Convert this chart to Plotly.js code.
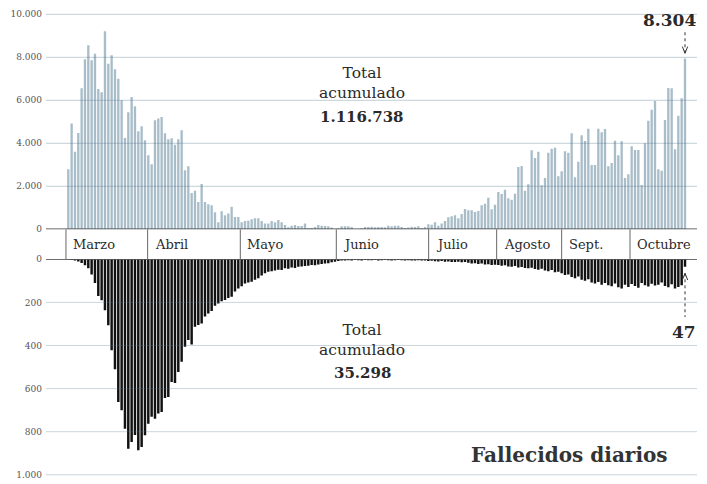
<!DOCTYPE html>
<html><head><meta charset="utf-8">
<script src="https://cdn.plot.ly/plotly-3.0.1.min.js"></script>
<style>html,body{margin:0;padding:0;background:#fff}#chart{width:707px;height:484px}</style>
</head><body><div id="chart"></div>
<script>
// Daily new cases (top panel)
const cases = [
  2790, 4916, 3612, 4480, 6558, 7907, 8558, 7860, 8170, 6527,
  6372, 9209, 7705, 8093, 7442, 7008, 6000, 4248, 5442, 6155,
  5721, 4558, 4790, 4140, 3442, 3023, 5070, 5149, 5225, 4465,
  4186, 4233, 3938, 4186, 4605, 2744, 2930, 1690, 1798, 1271,
  2108, 1271, 1163, 1116, 790, 326, 837, 651, 730, 1054,
  573, 573, 326, 388, 400, 465, 511, 511,
  388, 264, 264, 388, 326, 434, 326, 202,
  93, 170, 200, 155, 155, 264, 62, 62, 109, 200,
  170, 155, 140, 78, 10, 47, 140, 140, 140, 109,
  5, 16, 47, 109, 109, 124, 93, 109, 109, 93,
  170, 140, 170, 170, 109, 62, 78, 124, 109, 140,
  62, 109, 233, 217, 326, 170, 264, 388, 558, 605,
  651, 512, 713, 946, 884,
  884, 806, 853, 1116, 1194, 1473, 930, 1147, 1736, 1643,
  1845, 1442, 1380, 1659, 2899, 2946, 1798, 2093, 3674, 3318,
  3612, 2047, 2388, 3566, 3752, 3798, 2465, 2698, 3628, 3566,
  4465, 2419, 3147, 4372, 4109, 4682, 2992, 2992, 4682, 4512,
  4667, 2930, 3085, 4124, 3442, 4093, 2388, 2558, 3860, 3690,
  3690, 2062, 4000, 5054, 5566, 5969, 2791, 2729, 5085, 6574,
  6558, 3721, 5287, 6093, 7940
];
// Daily deaths (bottom panel)
const deaths = [
  1, 3, 5, 10, 17, 28, 42, 70, 110, 170,
  190, 236, 306, 422, 510, 662, 701, 786, 879, 848,
  815, 886, 871, 817, 763, 731, 740, 715, 709, 644,
  639, 569, 574, 523, 476, 406, 375, 395, 313, 305,
  298, 265, 252, 240, 215, 205, 195, 189, 180, 174,
  150, 135, 125, 112, 108, 104, 95, 88, 75, 65,
  58, 55, 52, 48, 50, 42, 44, 38, 40, 35,
  33, 31, 30, 26, 28, 24, 22, 19, 18, 14,
  11, 8, 6, 5, 4, 5, 3, 4, 5, 3,
  4, 4, 3, 5, 4, 3, 4, 5, 4, 3,
  4, 5, 4, 5, 6, 4, 5, 6, 8, 7,
  9, 10, 8, 11, 10, 12, 13, 11, 14, 13,
  16, 19, 18, 22, 20, 24, 23, 26, 25, 27,
  30, 28, 33, 35, 31, 38, 36, 40, 42, 39,
  45, 48, 44, 52, 55, 50, 60, 58, 65, 73,
  70, 82, 88, 80, 95, 100, 92, 108, 112, 105,
  118, 110, 120, 125, 112, 130, 136, 118, 128, 115,
  124, 132, 110, 120, 126, 114, 122, 118, 108, 124,
  130, 116, 136, 128, 120, 35
];
const monthNames = ['Marzo', 'Abril', 'Mayo', 'Junio', 'Julio', 'Agosto', 'Sept.', 'Octubre'];
const monthStarts = [0.3, 24.8, 52.6, 81.4, 109.1, 129.5, 149.0, 169.5];
const caseTicks = [0, 2000, 4000, 6000, 8000, 10000];
const deathTicks = [0, 200, 400, 600, 800, 1000];
const totalCases = '1.116.738';
const totalDeaths = '35.298';
const lastCases = '8.304';
const lastDeaths = '47';
const totalLabel = 'Total<br>acumulado';
const chartTitle = 'Fallecidos diarios';

const day = cases.map((_, i) => i + 1);
const lastDay = day[day.length - 1];
const lastCase = cases[cases.length - 1];
const lastDeath = deaths[deaths.length - 1];

const W = 707, H = 484, ML = 46, MR = 10;
const PW = W - ML - MR;
const px = x => (x - ML) / PW;   // paper x is relative to the plot area
const py = y => 1 - y / H;       // no top/bottom margins
const FONT = 'DejaVu Serif';

const traces = [
  {type: 'bar', x: day, y: cases, xaxis: 'x', yaxis: 'y', width: 0.7,
   marker: {color: '#a9bdc9', line: {width: 0}}, hoverinfo: 'skip'},
  {type: 'bar', x: day, y: deaths, xaxis: 'x', yaxis: 'y2', width: 0.74,
   marker: {color: '#111111', line: {width: 0}}, hoverinfo: 'skip'}
];

const shapes = [];
caseTicks.filter(t => t > 0).forEach(t => shapes.push({
  type: 'line', xref: 'x domain', x0: 0, x1: 1, yref: 'y', y0: t, y1: t,
  line: {color: 'rgba(80,115,140,0.35)', width: 1}, layer: 'above'}));
deathTicks.filter(t => t > 0).forEach(t => shapes.push({
  type: 'line', xref: 'x domain', x0: 0, x1: 1, yref: 'y2', y0: t, y1: t,
  line: {color: 'rgba(80,115,140,0.3)', width: 1}, layer: 'above'}));
shapes.push({type: 'line', xref: 'x domain', x0: 0, x1: 1, yref: 'y', y0: 0, y1: 0,
  line: {color: '#3c3c3c', width: 1.5}, layer: 'above'});
shapes.push({type: 'line', xref: 'x domain', x0: 0, x1: 1, yref: 'y2', y0: 0, y1: 0,
  line: {color: '#3c3c3c', width: 1.5}, layer: 'above'});
monthStarts.forEach(m => shapes.push({
  type: 'line', xref: 'x', x0: m, x1: m, yref: 'paper', y0: py(259.3), y1: py(229.3),
  line: {color: '#666', width: 1}}));
// dotted arrows to the last bars
shapes.push({type: 'line', xref: 'x', x0: lastDay, x1: lastDay, yref: 'y',
  y0: lastCase + 250, y1: 9300, line: {color: '#333', width: 1, dash: 'dot'}});
shapes.push({type: 'path', xref: 'x', yref: 'y',
  path: `M${lastDay - 0.8},${lastCase + 560} L${lastDay},${lastCase + 250} L${lastDay + 0.8},${lastCase + 560}`,
  line: {color: '#333', width: 1}});
shapes.push({type: 'line', xref: 'x', x0: lastDay, x1: lastDay, yref: 'y2',
  y0: lastDeath + 30, y1: 268, line: {color: '#333', width: 1, dash: 'dot'}});
shapes.push({type: 'path', xref: 'x', yref: 'y2',
  path: `M${lastDay - 0.8},${lastDeath + 61} L${lastDay},${lastDeath + 30} L${lastDay + 0.8},${lastDeath + 61}`,
  line: {color: '#333', width: 1}});

const annotations = [];
monthNames.forEach((n, i) => annotations.push({
  text: n, xref: 'x', x: monthStarts[i], xanchor: 'left', xshift: 5,
  yref: 'paper', y: py(244.3), yanchor: 'middle', showarrow: false,
  font: {family: FONT, size: 13, color: '#2a2a2a'}}));
const txt = (text, x, y, size, anchor, color) => ({
  text, xref: 'paper', yref: 'paper', x: px(x), y: py(y), xanchor: anchor || 'center',
  yanchor: 'middle', showarrow: false, font: {family: FONT, size, color: color || '#2a2a2a'}});
annotations.push(txt(totalLabel, 362, 83, 15.5));
annotations.push(txt('<b>' + totalCases + '</b>', 362, 117, 15));
annotations.push(txt(totalLabel, 362, 339.5, 15.5));
annotations.push(txt('<b>' + totalDeaths + '</b>', 362, 373, 15));
annotations.push(txt('<b>' + lastCases + '</b>', 698, 20, 17, 'right'));
annotations.push(txt('<b>' + lastDeaths + '</b>', 698, 331.7, 17, 'right'));
annotations.push(txt('<b>' + chartTitle + '</b>', 670, 455, 20, 'right', '#333'));

const axisCommon = {showgrid: false, zeroline: false, ticks: '', tickformat: ',d',
  ticklabelstandoff: 3,
  tickfont: {family: FONT, size: 9, color: '#555'}, fixedrange: true, showline: false};

const layout = {
  width: W, height: H, margin: {l: ML, r: MR, t: 0, b: 0},
  paper_bgcolor: '#fff', plot_bgcolor: 'rgba(0,0,0,0)',
  separators: ',.', showlegend: false, barmode: 'overlay',
  font: {family: FONT, color: '#333'},
  xaxis: {range: [-5.69, 189.6], showticklabels: false, showgrid: false, zeroline: false,
    fixedrange: true, showline: false},
  yaxis: Object.assign({domain: [py(229.3), py(11.1)], range: [0, 10150], tickvals: caseTicks}, axisCommon),
  yaxis2: Object.assign({domain: [py(479.1), py(259.3)], range: [1020, 0], tickvals: deathTicks,
    anchor: 'x'}, axisCommon),
  shapes, annotations
};

Plotly.newPlot('chart', traces, layout, {displayModeBar: false, staticPlot: true});
</script></body></html>
